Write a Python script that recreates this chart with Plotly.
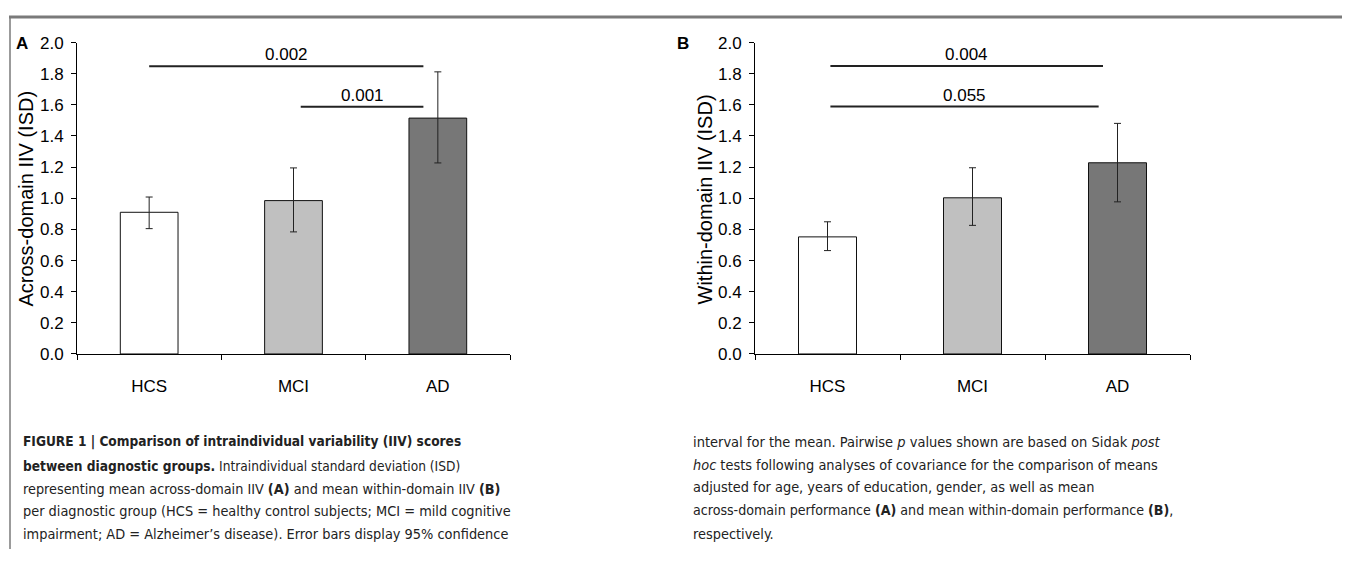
import plotly.graph_objects as go

# page is 1350x567 with the default 8px body margin -> figure fits inside
OFF = 8
W, H = 1350 - 2 * OFF, 567 - 2 * OFF

categories = ["HCS", "MCI", "AD"]
bar_colors = ["#ffffff", "#c0c0c0", "#777777"]

across_mean = [0.91, 0.985, 1.515]
across_upper = [1.008, 1.195, 1.812]
across_lower = [0.805, 0.784, 1.227]

within_mean = [0.752, 1.003, 1.228]
within_upper = [0.849, 1.196, 1.481]
within_lower = [0.664, 0.826, 0.977]

# pairwise comparisons: from, to (category units), level, label
across_p_from = [0.0, 1.05]
across_p_to = [1.9, 1.9]
across_p_level = [1.848, 1.588]
across_p_label = ["0.002", "0.001"]

within_p_from = [0.02, 0.02]
within_p_to = [1.9, 1.87]
within_p_level = [1.849, 1.589]
within_p_label = ["0.004", "0.055"]

y_ticks = [0.0, 0.2, 0.4, 0.6, 0.8, 1.0, 1.2, 1.4, 1.6, 1.8, 2.0]

caption_left = [
    "<b>FIGURE 1 | Comparison of intraindividual variability (IIV) scores</b>",
    "<b>between diagnostic groups.</b> Intraindividual standard deviation (ISD)",
    "representing mean across-domain IIV <b>(A)</b> and mean within-domain IIV <b>(B)</b>",
    "per diagnostic group (HCS = healthy control subjects; MCI = mild cognitive",
    "impairment; AD = Alzheimer\u2019s disease). Error bars display 95% confidence",
]
caption_right = [
    "interval for the mean. Pairwise <i>p</i> values shown are based on Sidak <i>post</i>",
    "<i>hoc</i> tests following analyses of covariance for the comparison of means",
    "adjusted for age, years of education, gender, as well as mean",
    "across-domain performance <b>(A)</b> and mean within-domain performance <b>(B)</b>,",
    "respectively.",
]
caption_left_size = [13.6, 13.6, 14.3, 14.4, 14.4]
caption_right_size = [14.5, 14.4, 14.4, 14.1, 14.4]

FONT = "Liberation Sans, Arial, sans-serif"
CAP_FONT = "DejaVu Sans Condensed, Liberation Sans, sans-serif"


def px(x):
    return (x - OFF) / W


def py(y):
    return 1 - (y - OFF) / H


fig = go.Figure()


def add_panel(mean, upper, lower, xa, ya):
    fig.add_trace(go.Bar(
        x=categories, y=mean, width=0.4,
        marker=dict(color=bar_colors, line=dict(color="#111111", width=1)),
        error_y=dict(type="data", symmetric=False,
                     array=[u - m for u, m in zip(upper, mean)],
                     arrayminus=[m - l for m, l in zip(mean, lower)],
                     color="#222222", thickness=1, width=3.5),
        xaxis=xa, yaxis=ya, showlegend=False,
    ))


add_panel(across_mean, across_upper, across_lower, "x", "y")
add_panel(within_mean, within_upper, within_lower, "x2", "y2")

shapes = []
annotations = []


def add_sig(p_from, p_to, level, labels, xref, yref):
    for a, b, lv, lab in zip(p_from, p_to, level, labels):
        shapes.append(dict(type="line", xref=xref, yref=yref, x0=a, x1=b, y0=lv, y1=lv,
                           line=dict(color="#222222", width=2)))
        annotations.append(dict(xref=xref, yref=yref, x=(a + b) / 2, y=lv, text=lab,
                                showarrow=False, yanchor="bottom", yshift=0,
                                font=dict(family=FONT, size=17, color="#000000")))


add_sig(across_p_from, across_p_to, across_p_level, across_p_label, "x", "y")
add_sig(within_p_from, within_p_to, within_p_level, within_p_label, "x2", "y2")

# frame lines
shapes.append(dict(type="line", xref="paper", yref="paper", x0=px(9), x1=1, y0=1, y1=1,
                   line=dict(color="#7a7a7a", width=3)))
shapes.append(dict(type="line", xref="paper", yref="paper", x0=px(10), x1=px(10), y0=1, y1=0,
                   line=dict(color="#7a7a7a", width=1.5)))

# panel letters
annotations.append(dict(xref="paper", yref="paper", x=px(22), y=py(35), text="<b>A</b>", showarrow=False,
                        xanchor="center", yanchor="middle", font=dict(family=FONT, size=17, color="#000")))
annotations.append(dict(xref="paper", yref="paper", x=px(683), y=py(35), text="<b>B</b>", showarrow=False,
                        xanchor="center", yanchor="middle", font=dict(family=FONT, size=17, color="#000")))

# y titles
annotations.append(dict(xref="paper", yref="paper", x=px(26), y=py(196), text="Across-domain IIV (ISD)",
                        showarrow=False, textangle=-90, xanchor="center", yanchor="middle",
                        font=dict(family=FONT, size=20, color="#000")))
annotations.append(dict(xref="paper", yref="paper", x=px(705), y=py(197), text="Within-domain IIV (ISD)",
                        showarrow=False, textangle=-90, xanchor="center", yanchor="middle",
                        font=dict(family=FONT, size=20, color="#000")))

# captions
left_y = [448, 473, 497, 520, 543]
right_y = [448, 472, 495, 519, 543]
for t, yy, fs in zip(caption_left, left_y, caption_left_size):
    annotations.append(dict(xref="paper", yref="paper", x=px(21), y=py(yy), text=t, showarrow=False,
                            xanchor="left", yanchor="middle", align="left",
                            font=dict(family=CAP_FONT, size=fs, color="#222222")))
for t, yy, fs in zip(caption_right, right_y, caption_right_size):
    annotations.append(dict(xref="paper", yref="paper", x=px(691), y=py(yy), text=t, showarrow=False,
                            xanchor="left", yanchor="middle", align="left",
                            font=dict(family=CAP_FONT, size=fs, color="#222222")))

yaxis_common = dict(range=[0, 2.0], tickvals=y_ticks, tickformat=".1f", showline=True, linecolor="#000",
                    linewidth=1, ticks="outside", ticklen=5, tickcolor="#000", showgrid=False, zeroline=False,
                    tickfont=dict(family=FONT, size=17, color="#000"), ticklabelstandoff=4)
xaxis_common = dict(type="category", showline=True, linecolor="#000", linewidth=1, ticks="outside",
                    ticklen=5, tickcolor="#000", tickson="boundaries", showgrid=False,
                    tickfont=dict(family=FONT, size=17, color="#000"), ticklabelstandoff=17)

fig.update_layout(
    width=W, height=H, margin=dict(l=0, r=0, t=0, b=0),
    paper_bgcolor="#ffffff", plot_bgcolor="#ffffff",
    xaxis=dict(domain=[px(77), px(510)], anchor="y", **xaxis_common),
    yaxis=dict(domain=[py(357), py(34.5)], anchor="x", **yaxis_common),
    xaxis2=dict(domain=[px(755), px(1190)], anchor="y2", **xaxis_common),
    yaxis2=dict(domain=[py(357), py(34.5)], anchor="x2", **yaxis_common),
    shapes=shapes, annotations=annotations, bargap=0.6,
)

fig.write_html("out.html")
